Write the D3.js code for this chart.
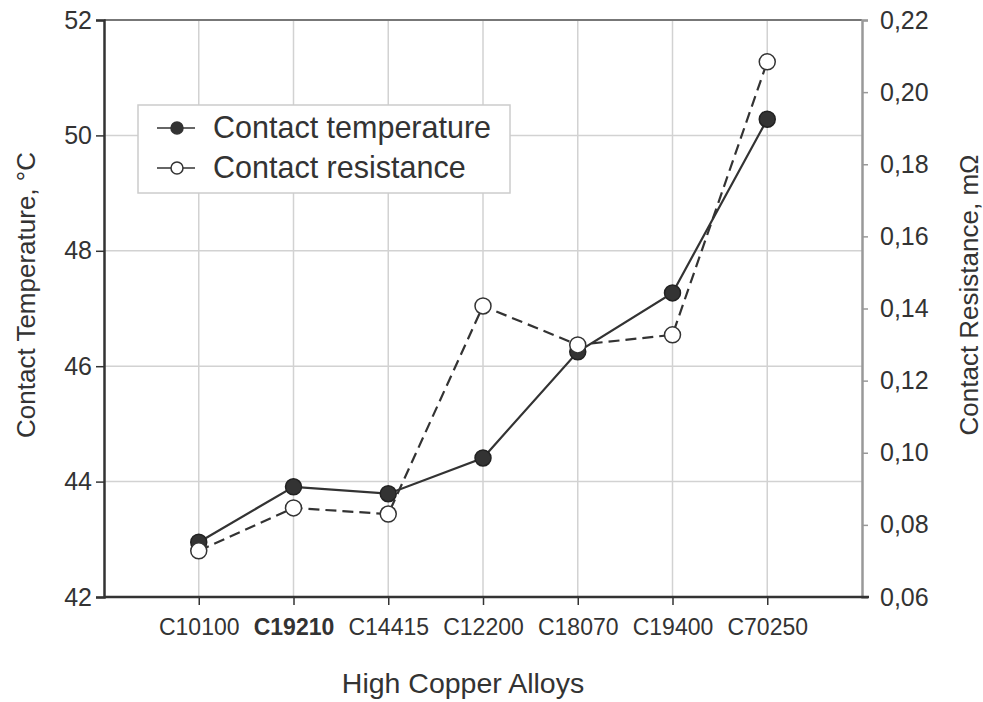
<!DOCTYPE html>
<html><head><meta charset="utf-8">
<script src="https://cdn.jsdelivr.net/npm/d3@7"></script>
<style>body{margin:0;background:#fff;} text{font-family:"Liberation Sans",Arial,sans-serif;}</style>
</head><body><svg id="c" width="983" height="702"></svg>
<script>
const categories = ["C10100","C19210","C14415","C12200","C18070","C19400","C70250"];
const temperature = [42.95, 43.91, 43.79, 44.41, 46.25, 47.27, 50.28];
const resistance = [0.0728, 0.0847, 0.0830, 0.1407, 0.1299, 0.1327, 0.2084];
const leftTicks = [42,44,46,48,50,52];
const rightTicks = [0.06,0.08,0.10,0.12,0.14,0.16,0.18,0.20,0.22];

const svg = d3.select("#c");
const L=104, R=862, T=20, B=597;
const x = d3.scaleLinear().domain([0,8]).range([L,R]);
const yL = d3.scaleLinear().domain([42,52]).range([B,T]);
const yR = d3.scaleLinear().domain([0.06,0.22]).range([B,T]);
const xi = i => x(i+1);
const ink = "#333";

// grid
const g = svg.append("g");
g.selectAll(".vg").data(categories).enter().append("line")
  .attr("x1",(d,i)=>xi(i)).attr("x2",(d,i)=>xi(i)).attr("y1",T).attr("y2",B)
  .attr("stroke","#d2d2d2").attr("stroke-width",1.5);
g.selectAll(".hg").data(leftTicks.slice(1,-1)).enter().append("line")
  .attr("x1",L).attr("x2",R).attr("y1",d=>yL(d)).attr("y2",d=>yL(d))
  .attr("stroke","#d2d2d2").attr("stroke-width",1.5);
// top border
svg.append("line").attr("x1",L).attr("x2",R).attr("y1",T).attr("y2",T).attr("stroke","#777").attr("stroke-width",2);

// axes
const axR = svg.append("g").attr("transform",`translate(${R},0)`)
  .call(d3.axisRight(yR).tickValues(rightTicks).tickSize(6).tickPadding(12).tickFormat(d=>d3.format(".2f")(d).replace(".",",")));
axR.select(".domain").attr("stroke","#999").attr("stroke-width",2.5);
axR.selectAll(".tick line").attr("stroke","#999").attr("stroke-width",1.5);
axR.selectAll("text").attr("font-size",25).attr("fill",ink);

const axL = svg.append("g").attr("transform",`translate(${L},0)`)
  .call(d3.axisLeft(yL).tickValues(leftTicks).tickSize(8).tickPadding(4).tickFormat(d3.format("d")));
axL.select(".domain").attr("stroke",ink).attr("stroke-width",2.5);
axL.selectAll(".tick line").attr("stroke",ink).attr("stroke-width",1.5);
axL.selectAll("text").attr("font-size",25).attr("fill",ink);

const axB = svg.append("g").attr("transform",`translate(0,${B})`)
  .call(d3.axisBottom(x).tickValues(d3.range(1,8)).tickSize(8).tickSizeOuter(0).tickPadding(14).tickFormat(d=>categories[d-1]));
axB.select(".domain").remove();
axB.append("line").attr("x1",L).attr("x2",R+7).attr("stroke",ink).attr("stroke-width",2.5);
axB.selectAll(".tick line").attr("stroke",ink).attr("stroke-width",1.5);
axB.selectAll(".tick text").attr("font-size",23).attr("fill",ink)
  .attr("font-weight",(d)=>d===2?"bold":"normal");

// titles
svg.append("text").attr("x",463).attr("y",693).attr("text-anchor","middle").attr("font-size",28.5).attr("fill",ink).text("High Copper Alloys");
svg.append("text").attr("transform","translate(35,295) rotate(-90)").attr("text-anchor","middle").attr("font-size",26).attr("fill",ink).text("Contact Temperature, °C");
svg.append("text").attr("transform","translate(978,295) rotate(-90)").attr("text-anchor","middle").attr("font-size",26).attr("fill",ink).text("Contact Resistance, mΩ");

// lines
const lineT = d3.line().x((d,i)=>xi(i)).y(d=>yL(d));
const lineR = d3.line().x((d,i)=>xi(i)).y(d=>yR(d));
svg.append("path").attr("d",lineR(resistance)).attr("fill","none").attr("stroke",ink).attr("stroke-width",2.2).attr("stroke-dasharray","11,6");
svg.append("path").attr("d",lineT(temperature)).attr("fill","none").attr("stroke",ink).attr("stroke-width",2.2);
svg.selectAll(".mt").data(temperature).enter().append("circle")
  .attr("cx",(d,i)=>xi(i)).attr("cy",d=>yL(d)).attr("r",8).attr("fill",ink).attr("stroke","#222").attr("stroke-width",1.5);
svg.selectAll(".mr").data(resistance).enter().append("circle")
  .attr("cx",(d,i)=>xi(i)).attr("cy",d=>yR(d)).attr("r",8).attr("fill","#fff").attr("stroke",ink).attr("stroke-width",1.5);

// legend
const lg = svg.append("g");
lg.append("rect").attr("x",138).attr("y",105).attr("width",372).attr("height",88).attr("fill","#fff").attr("stroke","#ccc").attr("stroke-width",1.5);
const items = [{label:"Contact temperature", fill:ink},{label:"Contact resistance", fill:"#fff"}];
items.forEach((it,k)=>{
  const cy = 128 + k*40;
  lg.append("line").attr("x1",157).attr("x2",195).attr("y1",cy).attr("y2",cy).attr("stroke",ink).attr("stroke-width",1.5);
  lg.append("circle").attr("cx",177).attr("cy",cy).attr("r",6).attr("fill",it.fill).attr("stroke",ink).attr("stroke-width",1.5);
  lg.append("text").attr("x",213).attr("y",cy+10).attr("font-size",30.5).attr("fill",ink).text(it.label);
});
</script></body></html>
